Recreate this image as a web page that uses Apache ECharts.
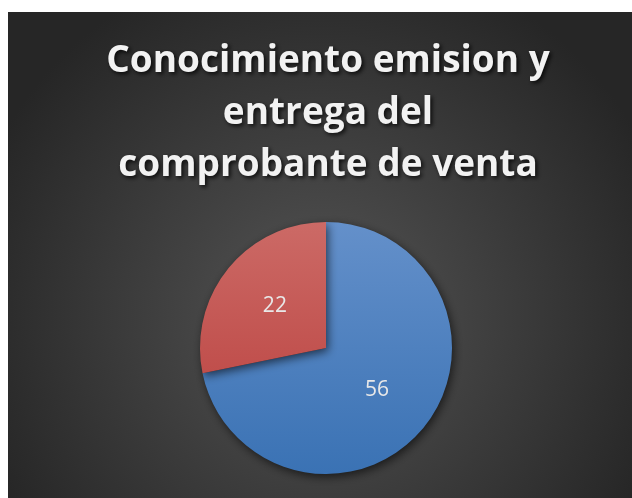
<!DOCTYPE html>
<html><head><meta charset="utf-8">
<script src="https://cdn.jsdelivr.net/npm/echarts@6/dist/echarts.min.js"></script>
<style>html,body{margin:0;padding:0;background:#fff}#c{width:632px;height:498px}</style>
</head><body><div id="c"></div>
<script>
const categories = ['Sí', 'No'];
const values = [56, 22];
const titleLines = ['Conocimiento emision y', 'entrega del', 'comprobante de venta'];
const colors = [
  ['#6490ca', '#3a72b4'],
  ['#cc6a66', '#b83c3a']
];
const chart = echarts.init(document.getElementById('c'), null, {renderer: 'canvas'});
chart.setOption({
  backgroundColor: '#ffffff',
  graphic: [{
    type: 'rect', z: -10, silent: true,
    shape: {x: 8, y: 12, width: 624, height: 486},
    style: {fill: {type: 'radial', x: 0.5, y: 0.62, r: 0.75,
      colorStops: [{offset: 0, color: '#545454'}, {offset: 1, color: '#262626'}]}}
  }],
  title: {
    text: titleLines.join('\n'),
    left: 323, top: 30, textAlign: 'center',
    textStyle: {
      color: '#f2f2f2', fontSize: 37, fontWeight: 'bold', fontFamily: 'Open Sans',
      lineHeight: 52,
      textShadowColor: 'rgba(0,0,0,0.8)', textShadowBlur: 4, textShadowOffsetX: 2, textShadowOffsetY: 2
    }
  },
  series: [{
    type: 'pie',
    center: [326, 348],
    radius: 126,
    startAngle: 90,
    clockwise: true,
    label: {
      position: 'inside', formatter: '{c}',
      color: '#e8e8e8', fontSize: 21, fontFamily: 'Open Sans'
    },
    labelLine: {show: false},
    emphasis: {disabled: true},
    data: categories.map((n, i) => ({
      name: n, value: values[i],
      itemStyle: {
        color: {type: 'linear', x: 0, y: 0, x2: 0, y2: 1, global: true,
          x: 0, y: 222, x2: 0, y2: 474,
          colorStops: [{offset: 0, color: colors[i][0]}, {offset: 1, color: colors[i][1]}]},
        borderWidth: 0,
        shadowColor: 'rgba(0,0,0,0.6)', shadowBlur: 10, shadowOffsetX: 2, shadowOffsetY: 3
      }
    }))
  }]
});
</script></body></html>
